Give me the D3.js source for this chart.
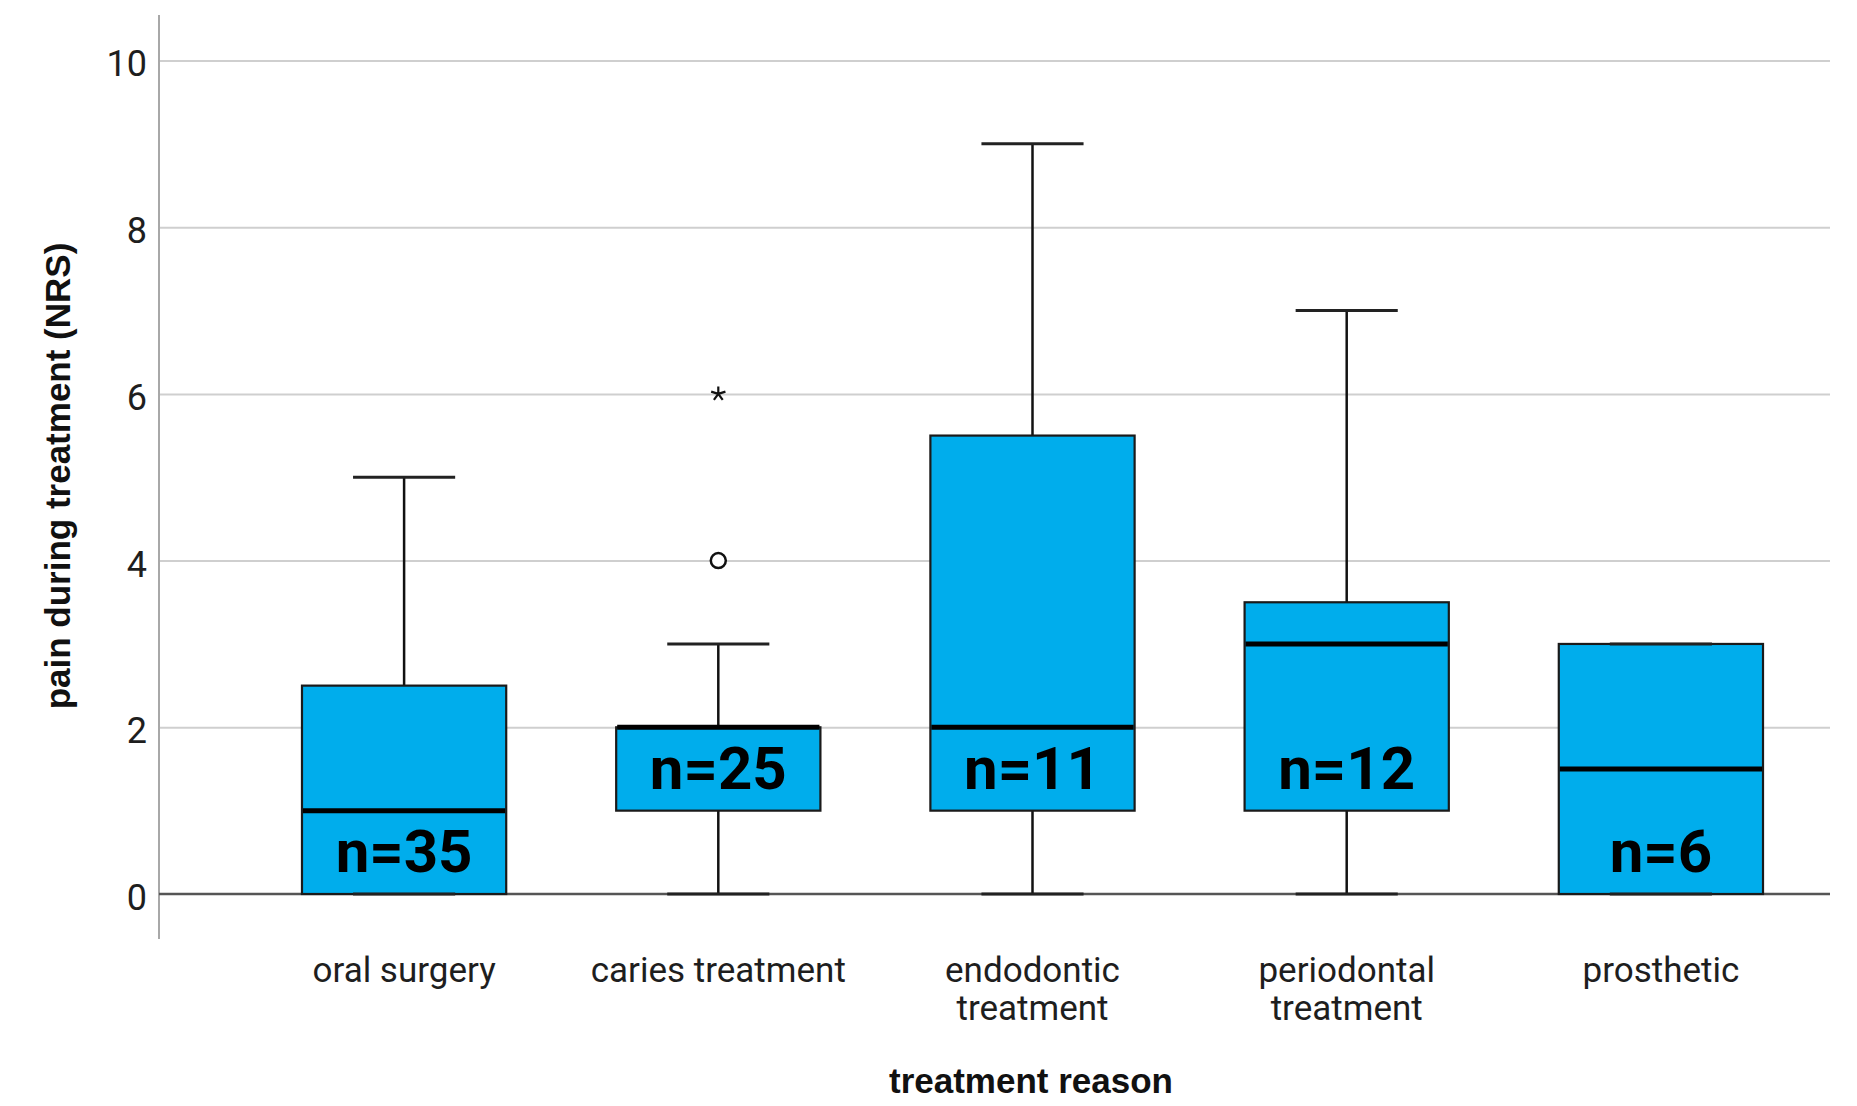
<!DOCTYPE html>
<html>
<head>
<meta charset="utf-8">
<script src="https://cdn.jsdelivr.net/npm/d3@7"></script>
<style>
  html, body { margin: 0; padding: 0; background: #ffffff; }
  svg { display: block; }
</style>
</head>
<body>
<svg id="chart" width="1857" height="1106"></svg>
<script>
// ---------------- data ----------------
const categories = ["oral surgery", "caries treatment", "endodontic treatment", "periodontal treatment", "prosthetic"];
const tickLabels = [["oral surgery"], ["caries treatment"], ["endodontic", "treatment"], ["periodontal", "treatment"], ["prosthetic"]];
const whiskerLow  = [0, 0, 0, 0, 0];
const q1          = [0, 1, 1, 1, 0];
const median      = [1, 2, 2, 3, 1.5];
const q3          = [2.5, 2, 5.5, 3.5, 3];
const whiskerHigh = [5, 3, 9, 7, 3];
const sampleSizes = [35, 25, 11, 12, 6];
const outlierCats   = ["caries treatment", "caries treatment"];
const outlierValues = [4, 6];
const outlierTypes  = ["outlier", "extreme"];
const yTicks = [0, 2, 4, 6, 8, 10];
const yTitle = "pain during treatment (NRS)";
const xTitle = "treatment reason";

// ---------------- layout ----------------
const svg = d3.select("#chart");
const axisX = 159;
const plotRight = 1830;

const x = d3.scaleBand().domain(categories).range([247, 1818]).paddingInner(0).paddingOuter(0);
const y = d3.scaleLinear().domain([0, 10]).range([894, 60.5]);
const boxW = x.bandwidth() * 0.65;
const capW = boxW * 0.5;
const cx = c => x(c) + x.bandwidth() / 2;

const boxes = categories.map((c, i) => ({
  cat: c, lo: whiskerLow[i], q1: q1[i], med: median[i], q3: q3[i], hi: whiskerHigh[i], n: sampleSizes[i]
}));

// gridlines via axis
const grid = svg.append("g").attr("transform", `translate(${axisX},0)`)
  .call(d3.axisRight(y).tickValues(yTicks.filter(v => v !== 0)).tickSize(plotRight - axisX).tickFormat(""));
grid.select(".domain").remove();
grid.selectAll(".tick line").attr("stroke", "#cfcfcf").attr("stroke-width", 2);

// y axis line
svg.append("line").attr("x1", axisX).attr("x2", axisX).attr("y1", 15).attr("y2", 939)
  .attr("stroke", "#a8a8a8").attr("stroke-width", 2);

// zero baseline
svg.append("line").attr("x1", axisX).attr("x2", plotRight).attr("y1", y(0)).attr("y2", y(0))
  .attr("stroke", "#555555").attr("stroke-width", 2.5);

// y tick labels
const yAxis = svg.append("g").attr("transform", `translate(${axisX - 12},0)`)
  .call(d3.axisLeft(y).tickValues(yTicks).tickSize(0).tickPadding(0).tickFormat(d3.format("d")));
yAxis.select(".domain").remove();
yAxis.selectAll(".tick text")
  .attr("font-family", "Roboto, 'Noto Sans', sans-serif")
  .attr("font-size", 36).attr("fill", "#1e1e1e").attr("dy", "0.43em");

// x tick labels
const xAxis = svg.append("g").attr("transform", `translate(0,${y(0)})`)
  .call(d3.axisBottom(x).tickSize(0).tickFormat(""));
xAxis.select(".domain").remove();
xAxis.selectAll(".tick").each(function(d, i) {
  tickLabels[i].forEach((line, k) => {
    d3.select(this).append("text")
      .attr("text-anchor", "middle")
      .attr("font-family", "Roboto, 'Noto Sans', sans-serif")
      .attr("font-size", 35).attr("fill", "#1e1e1e")
      .attr("x", 0).attr("y", 88 + k * 38).text(line);
  });
});

// whiskers (vertical)
const g = svg.append("g");
g.selectAll("line.whisker").data(boxes).join("line").attr("class", "whisker")
  .attr("x1", d => cx(d.cat)).attr("x2", d => cx(d.cat))
  .attr("y1", d => y(d.lo)).attr("y2", d => y(d.hi))
  .attr("stroke", "#111").attr("stroke-width", 2.5);

// boxes
g.selectAll("rect.box").data(boxes).join("rect").attr("class", "box")
  .attr("x", d => cx(d.cat) - boxW / 2).attr("width", boxW)
  .attr("y", d => y(d.q3)).attr("height", d => y(d.q1) - y(d.q3))
  .attr("fill", "#00adec").attr("stroke", "#1a1a1a").attr("stroke-width", 2.2);

// medians
g.selectAll("line.median").data(boxes).join("line").attr("class", "median")
  .attr("x1", d => cx(d.cat) - boxW / 2 + 1).attr("x2", d => cx(d.cat) + boxW / 2 - 1)
  .attr("y1", d => y(d.med)).attr("y2", d => y(d.med))
  .attr("stroke", "#000").attr("stroke-width", 5);

// caps
["lo", "hi"].forEach(k => {
  g.selectAll("line.cap-" + k).data(boxes).join("line").attr("class", "cap-" + k)
    .attr("x1", d => cx(d.cat) - capW / 2).attr("x2", d => cx(d.cat) + capW / 2)
    .attr("y1", d => y(d[k])).attr("y2", d => y(d[k]))
    .attr("stroke", "#222").attr("stroke-width", 3);
});

// outliers
outlierValues.forEach((v, i) => {
  const px = cx(outlierCats[i]), py = y(v);
  if (outlierTypes[i] === "outlier") {
    g.append("circle").attr("cx", px).attr("cy", py).attr("r", 7.5)
      .attr("fill", "#fff").attr("stroke", "#111").attr("stroke-width", 2.5);
  } else {
    const p = d3.path();
    for (let k = 0; k < 5; k++) {
      const a = -Math.PI / 2 + k * 2 * Math.PI / 5;
      p.moveTo(px, py);
      p.lineTo(px + 7.5 * Math.cos(a), py + 7.5 * Math.sin(a));
    }
    g.append("path").attr("d", p.toString()).attr("stroke", "#111").attr("stroke-width", 2.2).attr("fill", "none");
  }
});

// n labels
g.selectAll("text.nlab").data(boxes).join("text").attr("class", "nlab")
  .attr("x", d => cx(d.cat)).attr("y", d => y(d.q1) - 22)
  .attr("text-anchor", "middle")
  .attr("font-family", "Roboto, 'Noto Sans', sans-serif")
  .attr("font-weight", "bold").attr("font-size", 60).attr("fill", "#000")
  .text(d => "n=" + d.n);

// axis titles
svg.append("text")
  .attr("transform", `translate(70,476) rotate(-90)`)
  .attr("text-anchor", "middle")
  .attr("font-family", "'Liberation Sans', Arial, sans-serif")
  .attr("font-weight", "bold").attr("font-size", 35).attr("fill", "#111")
  .text(yTitle);

svg.append("text")
  .attr("x", 1031).attr("y", 1093)
  .attr("text-anchor", "middle")
  .attr("font-family", "'Liberation Sans', Arial, sans-serif")
  .attr("font-weight", "bold").attr("font-size", 35).attr("fill", "#111")
  .text(xTitle);
</script>
</body>
</html>
